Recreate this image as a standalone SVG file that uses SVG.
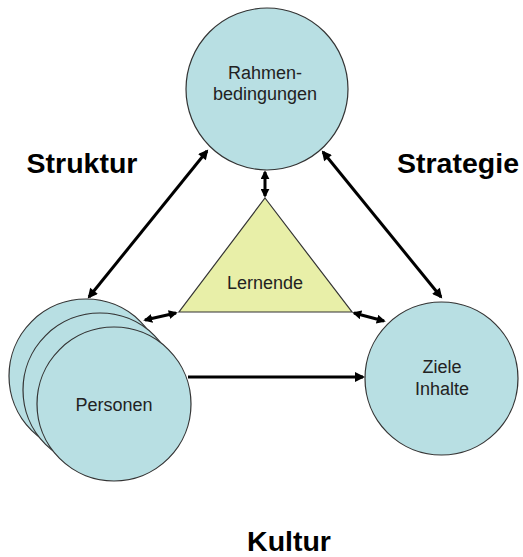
<svg xmlns="http://www.w3.org/2000/svg" width="523" height="557" viewBox="0 0 523 557">
<style>
.c{fill:#b8dfe3;stroke:#333;stroke-width:1.2}
.t{fill:#e8efa8;stroke:#333;stroke-width:1.2}
.n{font-family:"Liberation Sans",Arial,sans-serif;font-size:18px;fill:#222;text-anchor:middle}
.h{font-family:"Liberation Sans",Arial,sans-serif;font-size:28.5px;font-weight:bold;fill:#000;text-anchor:middle}
.a{stroke:#000;stroke-width:3;fill:none}
</style>
<defs>
<marker id="ah" viewBox="0 0 10 10" refX="8" refY="5" markerWidth="11" markerHeight="10" markerUnits="userSpaceOnUse" orient="auto-start-reverse"><path d="M0,0 L10,5 L0,10 z" fill="#000"/></marker>
<marker id="as" viewBox="0 0 10 10" refX="8" refY="5" markerWidth="9" markerHeight="9" markerUnits="userSpaceOnUse" orient="auto-start-reverse"><path d="M0,0 L10,5 L0,10 z" fill="#000"/></marker>
</defs>
<rect width="523" height="557" fill="#fff"/>
<g id="rahmen"><circle class="c" cx="267" cy="89" r="81"/><text class="n" x="265" y="79">Rahmen-</text><text class="n" x="265" y="100">bedingungen</text></g>
<g id="lernende"><polygon class="t" points="265,198 352,312 179,312"/><text class="n" x="265" y="289">Lernende</text></g>
<g id="personen"><circle class="c" cx="86" cy="376" r="77"/><circle class="c" cx="100" cy="390" r="77"/><circle class="c" cx="114" cy="404" r="77"/><text class="n" x="114" y="411">Personen</text></g>
<g id="ziele"><circle class="c" cx="441.5" cy="378.5" r="76.5"/><text class="n" x="442" y="373">Ziele</text><text class="n" x="442" y="395">Inhalte</text></g>
<g id="labels"><text class="h" x="82" y="173">Struktur</text><text class="h" x="458" y="173">Strategie</text><text class="h" x="289" y="551">Kultur</text></g>
<g id="connectors">
<line class="a" x1="207" y1="151" x2="89" y2="297" marker-start="url(#ah)" marker-end="url(#ah)"/>
<line class="a" x1="323" y1="152" x2="441" y2="297" marker-start="url(#ah)" marker-end="url(#ah)"/>
<line class="a" x1="265" y1="172" x2="265" y2="196" marker-start="url(#as)" marker-end="url(#as)"/>
<line class="a" x1="145" y1="320" x2="176" y2="313" marker-start="url(#as)" marker-end="url(#as)"/>
<line class="a" x1="354" y1="313" x2="384" y2="321" marker-start="url(#as)" marker-end="url(#as)"/>
<line class="a" x1="188" y1="377" x2="363" y2="377" marker-end="url(#ah)"/>
</g>
</svg>
